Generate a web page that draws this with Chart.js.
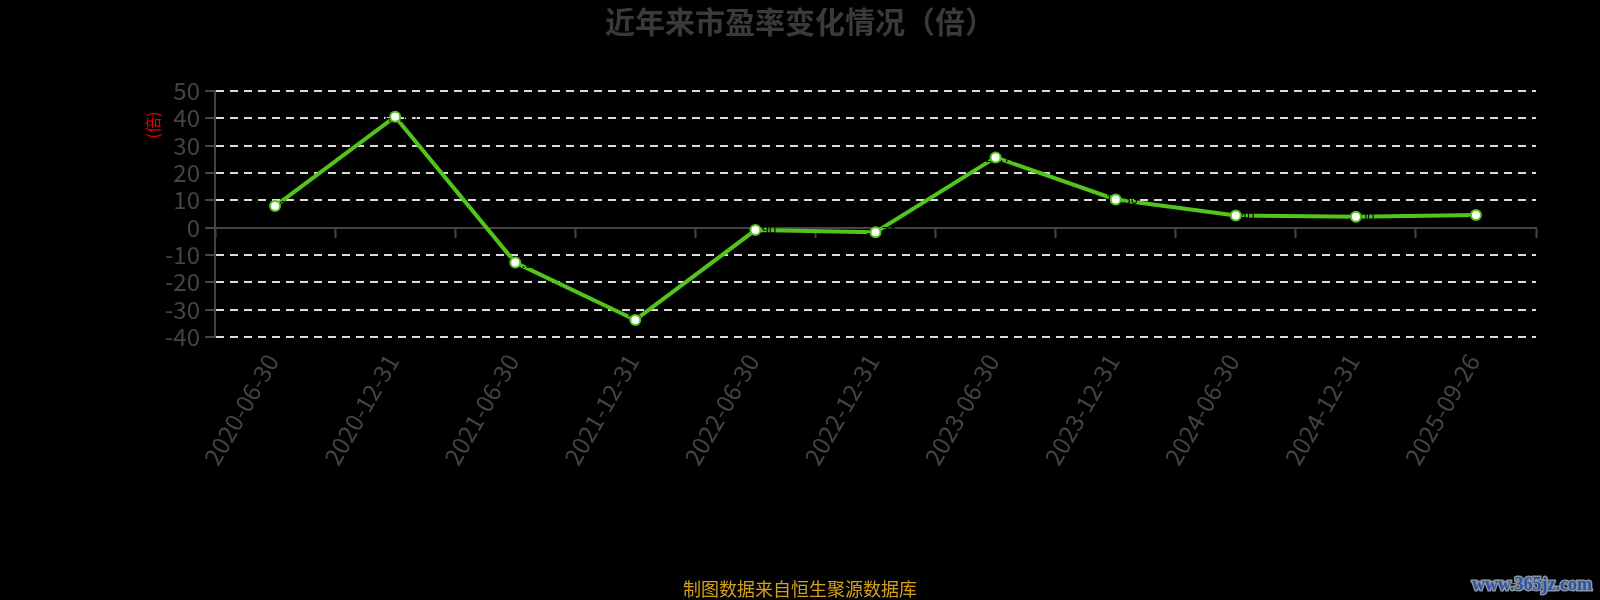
<!DOCTYPE html>
<html>
<head>
<meta charset="utf-8">
<script src="https://cdn.jsdelivr.net/npm/chart.js@4/dist/chart.umd.min.js"></script>
<style>
  html, body { margin: 0; padding: 0; background: #000; }
  #wrap { width: 1600px; height: 600px; }
</style>
</head>
<body>
<div id="wrap"><canvas id="peChart" width="1600" height="600"></canvas></div>
<script>
// report dates on the x axis
const dates = ['2020-06-30', '2020-12-31', '2021-06-30', '2021-12-31', '2022-06-30', '2022-12-31',
    '2023-06-30', '2023-12-31', '2024-06-30', '2024-12-31', '2025-09-26'];
// P/E ratio (times)
const peValues = [7.9, 40.6, -12.8, -33.8, -0.9, -1.7, 25.7, 10.3, 4.4, 4.0, 4.6];
// y axis range / step
const yMin = -40;
const yMax = 50;
const yStep = 10;

const titleText = '近年来市盈率变化情况（倍）';
const unitText = '(倍)';
const sourceText = '制图数据来自恒生聚源数据库';
const watermarkText = 'www.365jz.com';

const FONT = '"Noto Sans CJK SC", "Noto Sans", sans-serif';
const LINE_GREEN = '#52c41a';
const AXIS_GRAY = '#444';

// draws the red unit label, the (black) value labels and the watermark
const extrasPlugin = {
    id: 'extras',
    afterDatasetDraw(chart, args) {
        // value labels are black on black, they only show where they cut the line
        if (args.index !== 0) return;
        const ctx = chart.ctx;
        ctx.save();
        ctx.font = '13px ' + FONT;
        ctx.fillStyle = '#000';
        ctx.textAlign = 'center';
        ctx.textBaseline = 'middle';
        args.meta.data.forEach((pt, i) => {
            ctx.fillText(peValues[i].toFixed(2), pt.x + 6, pt.y);
        });
        ctx.restore();
    },
    afterDraw(chart) {
        const ctx = chart.ctx;
        const area = chart.chartArea;
        ctx.save();
        // unit label next to the y axis
        ctx.translate(area.left - 62, area.top + 34);
        ctx.rotate(-Math.PI / 2);
        ctx.font = '16px ' + FONT;
        ctx.fillStyle = '#e00000';
        ctx.textAlign = 'center';
        ctx.textBaseline = 'middle';
        ctx.fillText(unitText, 0, 0);
        ctx.restore();

        // watermark bottom right
        ctx.save();
        ctx.font = 'bold 18px "Liberation Serif", serif';
        ctx.textAlign = 'right';
        ctx.textBaseline = 'middle';
        ctx.lineWidth = 3;
        ctx.strokeStyle = '#8a94a0';
        ctx.strokeText(watermarkText, chart.width - 8, chart.height - 15);
        ctx.fillStyle = '#2a52a8';
        ctx.fillText(watermarkText, chart.width - 8, chart.height - 15);
        ctx.restore();
    }
};

const ctx = document.getElementById('peChart').getContext('2d');
const peChart = new Chart(ctx, {
    type: 'line',
    data: {
        labels: dates,
        datasets: [{
            // the line itself
            label: '市盈率',
            data: peValues,
            borderColor: LINE_GREEN,
            borderWidth: 4,
            pointRadius: 0,
            tension: 0,
            order: 1
        }, {
            // the markers, drawn on top of the line and labels
            label: '市盈率点',
            data: peValues,
            showLine: false,
            pointRadius: 5,
            pointBorderWidth: 2,
            pointBackgroundColor: '#fff',
            pointBorderColor: LINE_GREEN,
            order: 0
        }]
    },
    options: {
        responsive: false,
        animation: false,
        layout: {
            padding: { left: 0, right: 0, top: 0, bottom: 0 }
        },
        scales: {
            x: {
                type: 'category',
                position: 'bottom',
                offset: true,
                grid: { display: false },
                border: { display: false },
                ticks: {
                    color: AXIS_GRAY,
                    font: { family: FONT, size: 24 },
                    minRotation: 60,
                    maxRotation: 60,
                    autoSkip: false,
                    padding: 4,
                    labelOffset: -3
                },
                afterFit(scale) {
                    scale.height = 241.5;
                }
            },
            // axis line sitting on y = 0, with its tick marks
            x2: {
                type: 'category',
                position: { y: 0 },
                offset: true,
                grid: {
                    display: true,
                    offset: true,
                    drawOnChartArea: false,
                    drawTicks: true,
                    tickLength: 9,
                    tickColor: AXIS_GRAY,
                    tickWidth: 2
                },
                border: { display: true, color: AXIS_GRAY, width: 2 },
                ticks: { display: false }
            },
            y: {
                min: yMin,
                max: yMax,
                grid: {
                    color: c => (c.tick && c.tick.value === 0) ? 'rgba(0,0,0,0)' : '#dcdcdc',
                    lineWidth: 2,
                    tickColor: AXIS_GRAY,
                    tickLength: 10,
                    tickWidth: 2,
                    tickBorderDash: []
                },
                border: { display: true, color: AXIS_GRAY, width: 2, dash: [8, 6] },
                ticks: {
                    stepSize: yStep,
                    color: AXIS_GRAY,
                    font: { family: FONT, size: 24, lineHeight: 1 },
                    padding: 5
                },
                afterFit(scale) {
                    scale.width = 215;
                }
            },
            // empty right axis, only reserves the right margin
            yRight: {
                type: 'linear',
                position: 'right',
                grid: { display: false },
                border: { display: false },
                ticks: { display: false },
                afterFit(scale) {
                    scale.width = 64;
                }
            }
        },
        plugins: {
            legend: { display: false },
            tooltip: { enabled: false },
            title: {
                display: true,
                text: titleText,
                color: '#3a3a3a',
                font: { family: FONT, size: 30, weight: 'bold' },
                padding: { top: 4, bottom: 51 }
            },
            subtitle: {
                display: true,
                position: 'bottom',
                text: sourceText,
                color: '#d4a017',
                font: { family: FONT, size: 18 },
                padding: { top: 0, bottom: 0 }
            }
        }
    },
    plugins: [extrasPlugin]
});
</script>
</body>
</html>
